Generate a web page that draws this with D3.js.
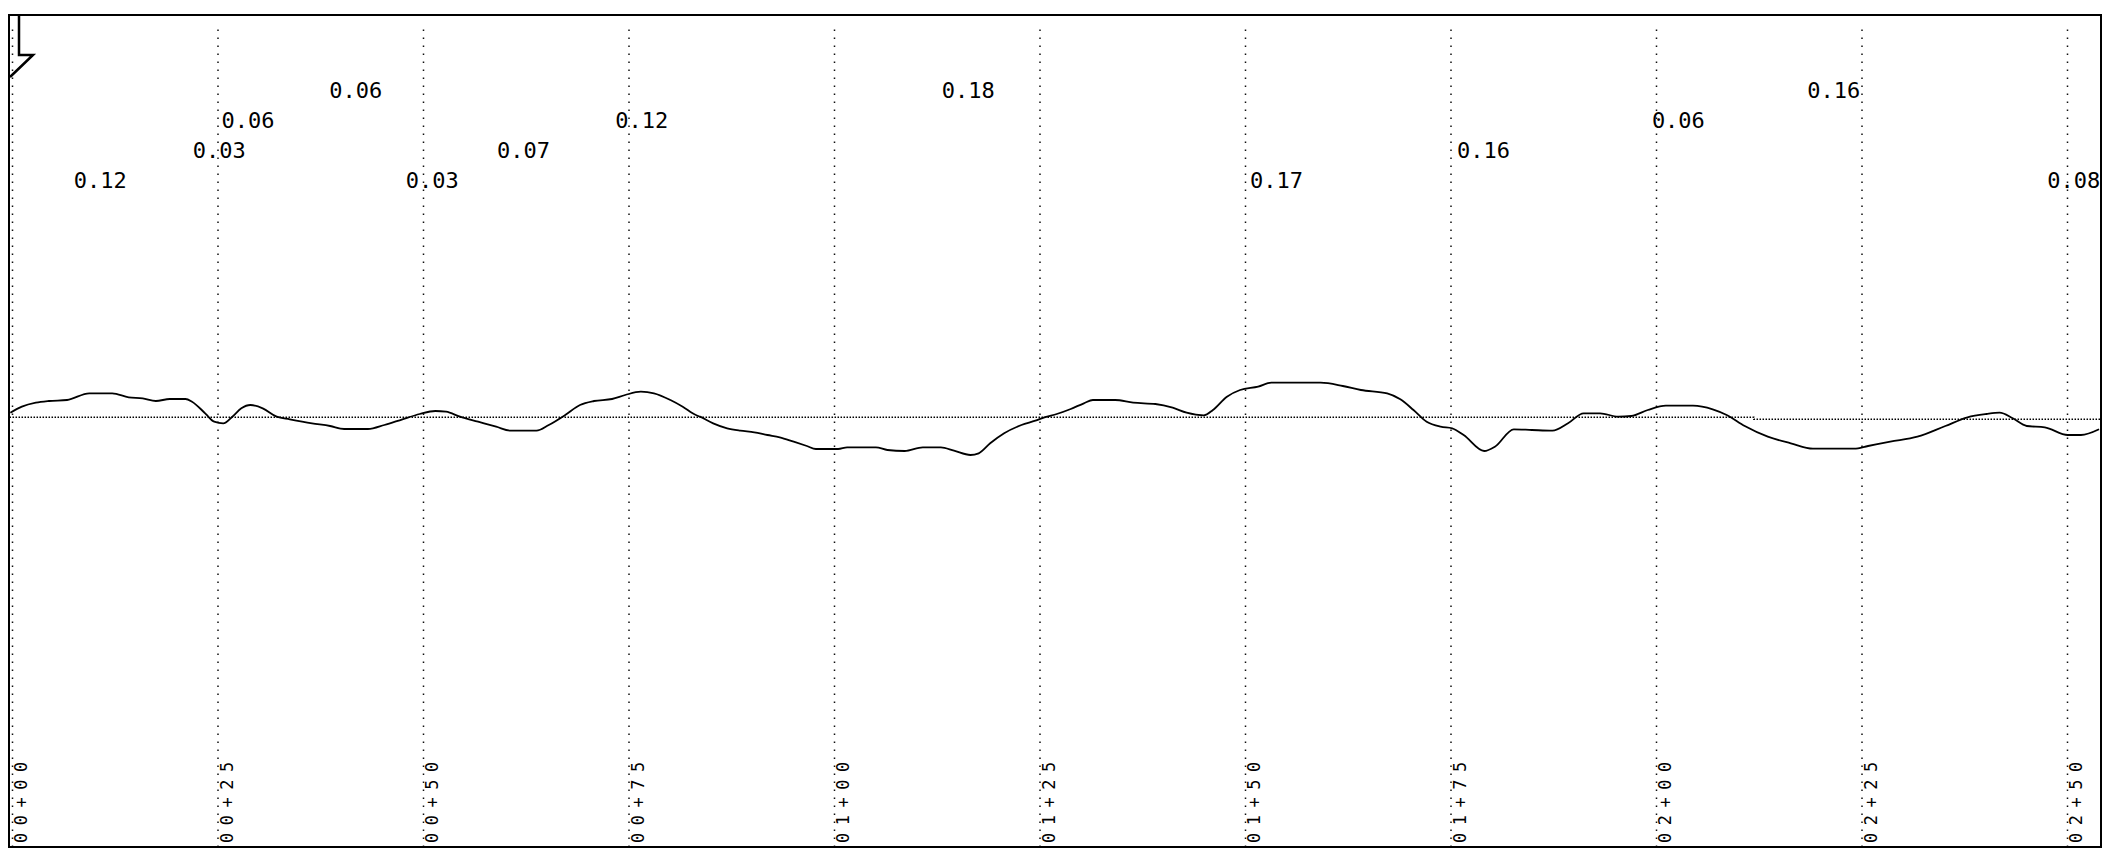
<!DOCTYPE html>
<html>
<head>
<meta charset="utf-8">
<script src="https://cdn.jsdelivr.net/npm/d3@7/dist/d3.min.js"></script>
<style>
body { margin: 0; background: #fff; }
text { font-family: "DejaVu Sans Mono", monospace; fill: #000; }
</style>
</head>
<body>
<div id="chart"></div>
<script>
// profile trace: station (ft) and deviation from the reference line
var stations = [-0.2, 1.2, 2.9, 4.5, 6.7, 9.4, 12.2, 14.2, 15.9, 17.5, 19.2, 21.1, 21.9, 23.5, 24.6, 25.7, 26.8, 27.9, 29.0, 30.5,
  32.2, 33.8, 36.5, 38.7, 40.4, 43.3, 45.3, 47.5, 49.6, 51.5, 52.8, 54.5, 56.7, 58.9, 60.7, 63.8, 65.3, 67.3, 69.1, 70.8,
  73.0, 74.6, 76.5, 78.1, 80.1, 81.6, 83.2, 83.7, 85.3, 87.0, 88.6, 90.3, 91.9, 93.4, 95.1, 96.7, 97.8, 100.5, 101.6, 105.1,
  106.5, 108.6, 110.8, 113.0, 114.6, 116.6, 117.6, 119.0, 120.7, 122.8, 124.5, 125.6, 127.1, 128.8, 130.4, 131.5, 134.2, 136.4, 139.1, 141.2,
  142.9, 145.0, 146.1, 147.8, 149.4, 151.6, 153.2, 159.2, 161.9, 164.1, 167.3, 168.9, 170.5, 172.1, 173.8, 175.2, 176.6, 179.1, 180.4, 182.7,
  184.9, 187.4, 189.3, 191.2, 193.2, 195.4, 197.0, 199.0, 201.2, 204.5, 206.9, 208.6, 210.8, 213.6, 216.4, 219.1, 224.1, 225.8, 228.5, 231.8,
  235.2, 237.9, 240.2, 241.8, 243.4, 245.1, 247.3, 250.1, 251.7, 253.9];
var deviation = [0.46, 1.06, 1.46, 1.63, 1.73, 2.40, 2.40, 2.00, 1.90, 1.63, 1.83, 1.83, 1.56, 0.40, -0.44, -0.60, 0.06, 0.90, 1.23, 0.90,
  0.06, -0.20, -0.60, -0.87, -1.17, -1.17, -0.77, -0.20, 0.33, 0.63, 0.56, 0.06, -0.44, -0.94, -1.34, -1.34, -0.77, 0.23, 1.23, 1.63,
  1.83, 2.23, 2.56, 2.40, 1.73, 1.06, 0.23, 0.06, -0.60, -1.10, -1.34, -1.50, -1.77, -2.00, -2.44, -2.87, -3.17, -3.17, -3.00, -3.00,
  -3.27, -3.37, -3.00, -3.00, -3.34, -3.77, -3.60, -2.60, -1.60, -0.77, -0.34, 0.00, 0.33, 0.83, 1.40, 1.73, 1.73, 1.46, 1.33, 0.96,
  0.46, 0.20, 0.73, 2.06, 2.73, 3.06, 3.46, 3.46, 3.13, 2.73, 2.40, 1.80, 0.73, -0.44, -0.94, -1.10, -1.77, -3.37, -2.94, -1.20,
  -1.27, -1.34, -0.60, 0.40, 0.40, 0.06, 0.13, 0.73, 1.16, 1.16, 0.80, 0.23, -0.87, -1.94, -2.60, -3.14, -3.14, -2.87, -2.44, -1.94,
  -0.87, 0.00, 0.33, 0.46, -0.10, -0.87, -1.00, -1.77, -1.77, -1.20];

// reference line (steps down slightly near the end)
var refStations = [-0.3, 211.9, 211.9, 254.1];
var refValues = [0, 0, -0.2, -0.2];

// station grid
var tickStations = [0, 25, 50, 75, 100, 125, 150, 175, 200, 225, 250];
var tickLabels = ["00+00", "00+25", "00+50", "00+75", "01+00", "01+25", "01+50", "01+75", "02+00", "02+25", "02+50"];

// value labels along the top
var labelStations = [7.5, 22.0, 25.5, 38.6, 47.9, 59.0, 73.4, 113.1, 150.6, 175.8, 199.5, 218.4, 247.6];
var labelValues = [0.12, 0.03, 0.06, 0.06, 0.03, 0.07, 0.12, 0.18, 0.17, 0.16, 0.06, 0.16, 0.08];

var svgWidth = 2112;
var svgHeight = 849;

var frame = { left: 9, top: 15, right: 2101, bottom: 847 };
var baseY = 417.3;

var svg = d3.select("#chart")
  .append("svg")
  .attr("width", svgWidth)
  .attr("height", svgHeight)
  .style("display", "block");

svg.append("rect")
  .attr("width", svgWidth)
  .attr("height", svgHeight)
  .attr("fill", "#fff");

var x = d3.scaleLinear()
  .domain([0, 250])
  .range([12, 2067]);

var y = d3.scaleLinear()
  .domain([-5, 5])
  .range([baseY + 50, baseY - 50]);

// vertical dotted station lines
var gridAxis = d3.axisBottom(x)
  .tickValues(tickStations)
  .tickSize(-(frame.bottom - 28))
  .tickFormat("");

var grid = svg.append("g")
  .attr("transform", `translate(0, ${frame.bottom})`)
  .call(gridAxis);

grid.select(".domain").remove();
grid.selectAll(".tick line")
  .attr("stroke", "#111")
  .attr("stroke-width", 1.5)
  .attr("stroke-dasharray", "1.5,6.5");

// rotated station labels at the bottom
svg.selectAll(".stalabel")
  .data(tickStations)
  .enter()
  .append("text")
  .attr("class", "stalabel")
  .attr("transform", d => `translate(${x(d) + 15}, 843) rotate(-90)`)
  .attr("font-size", "17px")
  .attr("letter-spacing", "7.5px")
  .text((d, i) => tickLabels[i]);

// reference line
var refData = refStations.map((s, i) => ({ s: s, v: refValues[i] }));
svg.append("path")
  .datum(refData)
  .attr("fill", "none")
  .attr("stroke", "#000")
  .attr("stroke-width", 1.4)
  .attr("stroke-dasharray", "1.5,1.5")
  .attr("d", d3.line().x(d => x(d.s)).y(d => y(d.v)).curve(d3.curveStepAfter));

// profile trace
var profData = stations.map((s, i) => ({ s: s, v: deviation[i] }));
svg.append("path")
  .datum(profData)
  .attr("fill", "none")
  .attr("stroke", "#000")
  .attr("stroke-width", 1.8)
  .attr("stroke-linejoin", "round")
  .attr("d", d3.line().x(d => x(d.s)).y(d => y(d.v)).curve(d3.curveMonotoneX));

// value labels, staggered over four rows
var fmt = d3.format(".2f");
svg.selectAll(".vlabel")
  .data(labelValues)
  .enter()
  .append("text")
  .attr("class", "vlabel")
  .attr("x", (d, i) => x(labelStations[i]))
  .attr("y", (d, i) => 98 + (3 - i % 4) * 30)
  .attr("font-size", "22px")
  .text(d => fmt(d));

// marker in the top-left corner
svg.append("path")
  .attr("d", "M19,15 L19,55 L33,55 L10,77")
  .attr("fill", "none")
  .attr("stroke", "#000")
  .attr("stroke-width", 2.5);

// outer frame
svg.append("rect")
  .attr("x", frame.left)
  .attr("y", frame.top)
  .attr("width", frame.right - frame.left)
  .attr("height", frame.bottom - frame.top)
  .attr("fill", "none")
  .attr("stroke", "#000")
  .attr("stroke-width", 2);
</script>
</body>
</html>
